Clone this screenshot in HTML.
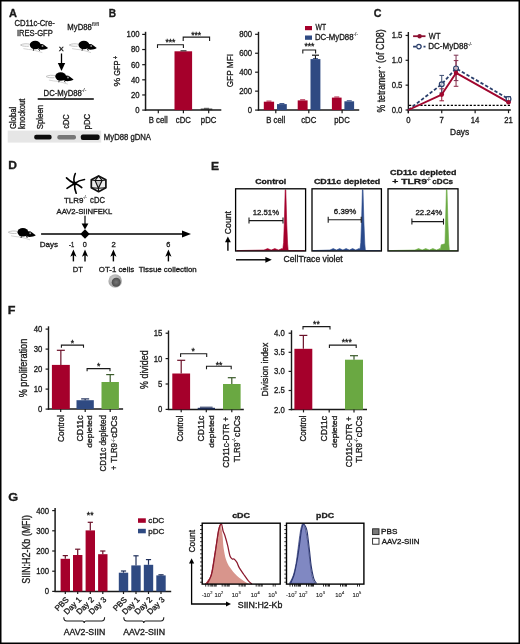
<!DOCTYPE html><html><head><meta charset="utf-8"><style>html,body{margin:0;padding:0;background:#fff;overflow:hidden}svg{display:block;will-change:transform}text{font-family:"Liberation Sans",sans-serif;stroke:#1a1a1a;stroke-width:0.32px}</style></head><body><svg width="520" height="644" viewBox="0 0 520 644" font-family="Liberation Sans, sans-serif">
<rect width="520" height="644" fill="#fff"/>
<defs><filter id="bl" x="-20%" y="-60%" width="140%" height="220%"><feGaussianBlur stdDeviation="0.7"/></filter></defs>
<text x="8.93" y="17.10" font-size="11" font-weight="bold" fill="#1a1a1a" textLength="7.97" lengthAdjust="spacingAndGlyphs">A</text>
<text x="14.42" y="26.40" font-size="8.6" fill="#1a1a1a" textLength="40.32" lengthAdjust="spacingAndGlyphs">CD11c-Cre-</text>
<text x="16.90" y="35.60" font-size="8.6" fill="#1a1a1a" textLength="35.90" lengthAdjust="spacingAndGlyphs">IRES-GFP</text>
<text x="67.37" y="30.00" font-size="8.6" fill="#1a1a1a" textLength="24.47" lengthAdjust="spacingAndGlyphs">MyD88</text>
<text x="92.13" y="25.90" font-size="5.2" style="stroke-width:0.12px" fill="#1a1a1a" textLength="6.73" lengthAdjust="spacingAndGlyphs">fl/fl</text>
<g transform="translate(29.90,40.80) scale(1.0)"><path d="M0.6,3.6 C-3,2.6 -7,2.8 -9.4,4.2 C-7.5,5.6 -4,5.6 -1,5.4" fill="none" stroke="#c4c4c4" stroke-width="1"/><path d="M-6.5,7.8 C-3,8.6 0,8.8 2.6,9 C6,9.8 9,10.8 12.4,11.8" fill="none" stroke="#d0d0d0" stroke-width="0.9"/><ellipse cx="5.3" cy="4.2" rx="5.4" ry="4.2" fill="#000"/><path d="M8.6,3.9 C10.5,2.9 13,3.1 14.5,4.4 C15.8,5.4 17.2,6.4 18.2,7.3 C16.5,8.6 13,9.1 10,8.8 C8.4,8.5 8,6 8.6,3.9 Z" fill="#000"/><circle cx="12.6" cy="5.2" r="1.0" fill="#bbb" stroke="#000" stroke-width="0.3"/><path d="M8.5,8 L9.8,10 M3.8,8.2 L3.4,10" stroke="#000" stroke-width="0.8"/></g>
<g transform="translate(78.60,40.80) scale(1.0)"><path d="M0.6,3.6 C-3,2.6 -7,2.8 -9.4,4.2 C-7.5,5.6 -4,5.6 -1,5.4" fill="none" stroke="#c4c4c4" stroke-width="1"/><path d="M-6.5,7.8 C-3,8.6 0,8.8 2.6,9 C6,9.8 9,10.8 12.4,11.8" fill="none" stroke="#d0d0d0" stroke-width="0.9"/><ellipse cx="5.3" cy="4.2" rx="5.4" ry="4.2" fill="#000"/><path d="M8.6,3.9 C10.5,2.9 13,3.1 14.5,4.4 C15.8,5.4 17.2,6.4 18.2,7.3 C16.5,8.6 13,9.1 10,8.8 C8.4,8.5 8,6 8.6,3.9 Z" fill="#000"/><circle cx="12.6" cy="5.2" r="1.0" fill="#bbb" stroke="#000" stroke-width="0.3"/><path d="M8.5,8 L9.8,10 M3.8,8.2 L3.4,10" stroke="#000" stroke-width="0.8"/></g>
<text x="59.10" y="50.80" font-size="7.5" fill="#1a1a1a" textLength="4.60" lengthAdjust="spacingAndGlyphs">x</text>
<line x1="61.50" y1="53.50" x2="61.50" y2="65.00" stroke="#000" stroke-width="1.3"/>
<path d="M57.8,63 L65.2,63 L61.5,71 Z" fill="#000"/>
<g transform="translate(55.40,72.30) scale(1.0)"><path d="M0.6,3.6 C-3,2.6 -7,2.8 -9.4,4.2 C-7.5,5.6 -4,5.6 -1,5.4" fill="none" stroke="#c4c4c4" stroke-width="1"/><path d="M-6.5,7.8 C-3,8.6 0,8.8 2.6,9 C6,9.8 9,10.8 12.4,11.8" fill="none" stroke="#d0d0d0" stroke-width="0.9"/><ellipse cx="5.3" cy="4.2" rx="5.4" ry="4.2" fill="#000"/><path d="M8.6,3.9 C10.5,2.9 13,3.1 14.5,4.4 C15.8,5.4 17.2,6.4 18.2,7.3 C16.5,8.6 13,9.1 10,8.8 C8.4,8.5 8,6 8.6,3.9 Z" fill="#000"/><circle cx="12.6" cy="5.2" r="1.0" fill="#bbb" stroke="#000" stroke-width="0.3"/><path d="M8.5,8 L9.8,10 M3.8,8.2 L3.4,10" stroke="#000" stroke-width="0.8"/></g>
<text x="43.57" y="95.80" font-size="8.6" fill="#1a1a1a" textLength="38.27" lengthAdjust="spacingAndGlyphs">DC-MyD88</text>
<text x="81.79" y="92.40" font-size="4.8" style="stroke-width:0.12px" fill="#1a1a1a" textLength="4.42" lengthAdjust="spacingAndGlyphs">-/-</text>
<line x1="37.70" y1="99.10" x2="93.80" y2="99.10" stroke="#000" stroke-width="1.5"/>
<text transform="translate(16.20,128.50) rotate(-90)" x="-0.38" y="0" font-size="8.6" fill="#1a1a1a" textLength="22.10" lengthAdjust="spacingAndGlyphs">Global</text>
<text transform="translate(25.40,128.50) rotate(-90)" x="-0.51" y="0" font-size="8.6" fill="#1a1a1a" textLength="30.26" lengthAdjust="spacingAndGlyphs">knockout</text>
<text transform="translate(42.90,128.90) rotate(-90)" x="-0.36" y="0" font-size="8.6" fill="#1a1a1a" textLength="24.36" lengthAdjust="spacingAndGlyphs">Spleen</text>
<text transform="translate(68.50,128.50) rotate(-90)" x="-0.31" y="0" font-size="8.6" fill="#1a1a1a" textLength="14.40" lengthAdjust="spacingAndGlyphs">cDC</text>
<text transform="translate(90.40,128.90) rotate(-90)" x="-0.50" y="0" font-size="8.6" fill="#1a1a1a" textLength="15.60" lengthAdjust="spacingAndGlyphs">pDC</text>
<rect x="7.70" y="130.60" width="93.50" height="12.00" fill="#e6e6e6"/>
<rect x="34.2" y="134.8" width="17.4" height="4.8" rx="2" fill="#111" filter="url(#bl)"/>
<rect x="57.3" y="135.0" width="18.7" height="4.4" rx="2" fill="#777" filter="url(#bl)"/>
<rect x="80.8" y="134.6" width="18.8" height="5.4" rx="2" fill="#0a0a0a" filter="url(#bl)"/>
<text x="103.87" y="140.00" font-size="8.6" fill="#1a1a1a" textLength="47.15" lengthAdjust="spacingAndGlyphs">MyD88 gDNA</text>
<text x="108.82" y="16.90" font-size="11" font-weight="bold" fill="#1a1a1a" textLength="7.34" lengthAdjust="spacingAndGlyphs">B</text>
<line x1="145.55" y1="31.80" x2="145.55" y2="110.70" stroke="#1a1a1a" stroke-width="1.5"/>
<line x1="144.85" y1="110.10" x2="221.30" y2="110.10" stroke="#1a1a1a" stroke-width="1.5"/>
<line x1="142.20" y1="110.10" x2="145.55" y2="110.10" stroke="#1a1a1a" stroke-width="1.2"/>
<text x="135.20" y="113.00" font-size="8.6" fill="#1a1a1a" textLength="4.30" lengthAdjust="spacingAndGlyphs">0</text>
<line x1="142.20" y1="94.96" x2="145.55" y2="94.96" stroke="#1a1a1a" stroke-width="1.2"/>
<text x="130.89" y="97.86" font-size="8.6" fill="#1a1a1a" textLength="8.61" lengthAdjust="spacingAndGlyphs">20</text>
<line x1="142.20" y1="79.82" x2="145.55" y2="79.82" stroke="#1a1a1a" stroke-width="1.2"/>
<text x="130.89" y="82.72" font-size="8.6" fill="#1a1a1a" textLength="8.61" lengthAdjust="spacingAndGlyphs">40</text>
<line x1="142.20" y1="64.68" x2="145.55" y2="64.68" stroke="#1a1a1a" stroke-width="1.2"/>
<text x="130.89" y="67.58" font-size="8.6" fill="#1a1a1a" textLength="8.61" lengthAdjust="spacingAndGlyphs">60</text>
<line x1="142.20" y1="49.54" x2="145.55" y2="49.54" stroke="#1a1a1a" stroke-width="1.2"/>
<text x="130.89" y="52.44" font-size="8.6" fill="#1a1a1a" textLength="8.61" lengthAdjust="spacingAndGlyphs">80</text>
<line x1="142.20" y1="34.40" x2="145.55" y2="34.40" stroke="#1a1a1a" stroke-width="1.2"/>
<text x="126.59" y="37.30" font-size="8.6" fill="#1a1a1a" textLength="12.91" lengthAdjust="spacingAndGlyphs">100</text>
<line x1="158.30" y1="110.10" x2="158.30" y2="113.30" stroke="#1a1a1a" stroke-width="1.2"/>
<text x="148.78" y="123.40" font-size="8.6" fill="#1a1a1a" textLength="18.93" lengthAdjust="spacingAndGlyphs">B cell</text>
<line x1="183.40" y1="110.10" x2="183.40" y2="113.30" stroke="#1a1a1a" stroke-width="1.2"/>
<text x="175.86" y="123.40" font-size="8.6" fill="#1a1a1a" textLength="15.05" lengthAdjust="spacingAndGlyphs">cDC</text>
<line x1="208.70" y1="110.10" x2="208.70" y2="113.30" stroke="#1a1a1a" stroke-width="1.2"/>
<text x="200.86" y="123.40" font-size="8.6" fill="#1a1a1a" textLength="15.48" lengthAdjust="spacingAndGlyphs">pDC</text>
<rect x="174.50" y="51.30" width="17.60" height="58.80" fill="#a5002b"/>
<line x1="180.50" y1="50.80" x2="186.50" y2="50.80" stroke="#1a1a1a" stroke-width="1"/>
<rect x="200.70" y="108.60" width="11.60" height="1.50" fill="#2a2a2a"/>
<line x1="204.00" y1="108.30" x2="209.00" y2="108.30" stroke="#222" stroke-width="0.7"/>
<path d="M157.50,48.00V44.80H183.40V48.00" fill="none" stroke="#1a1a1a" stroke-width="1.1"/>
<path d="M183.20,41.10V37.10H209.60V41.10" fill="none" stroke="#1a1a1a" stroke-width="1.1"/>
<text x="170.40" y="44.99" font-size="8.6" fill="#1a1a1a" text-anchor="middle">***</text>
<text x="196.20" y="37.59" font-size="8.6" fill="#1a1a1a" text-anchor="middle">***</text>
<text transform="translate(119.60,86.10) rotate(-90)" x="-0.35" y="0" font-size="9.6" fill="#1a1a1a" textLength="8.81" lengthAdjust="spacingAndGlyphs">%</text>
<text transform="translate(119.60,75.30) rotate(-90)" x="-0.37" y="0" font-size="9.6" fill="#1a1a1a" textLength="15.16" lengthAdjust="spacingAndGlyphs">GFP</text>
<text transform="translate(117.60,59.00) rotate(-90)" x="-0.28" y="0" font-size="7" fill="#1a1a1a" textLength="3.37" lengthAdjust="spacingAndGlyphs">+</text>
<line x1="258.50" y1="31.80" x2="258.50" y2="110.70" stroke="#1a1a1a" stroke-width="1.4"/>
<line x1="257.80" y1="110.10" x2="359.20" y2="110.10" stroke="#1a1a1a" stroke-width="1.5"/>
<line x1="255.10" y1="110.10" x2="258.50" y2="110.10" stroke="#1a1a1a" stroke-width="1.2"/>
<text x="247.80" y="113.00" font-size="8.6" fill="#1a1a1a" textLength="4.30" lengthAdjust="spacingAndGlyphs">0</text>
<line x1="255.10" y1="91.15" x2="258.50" y2="91.15" stroke="#1a1a1a" stroke-width="1.2"/>
<text x="239.19" y="94.05" font-size="8.6" fill="#1a1a1a" textLength="12.91" lengthAdjust="spacingAndGlyphs">200</text>
<line x1="255.10" y1="72.20" x2="258.50" y2="72.20" stroke="#1a1a1a" stroke-width="1.2"/>
<text x="239.19" y="75.10" font-size="8.6" fill="#1a1a1a" textLength="12.91" lengthAdjust="spacingAndGlyphs">400</text>
<line x1="255.10" y1="53.25" x2="258.50" y2="53.25" stroke="#1a1a1a" stroke-width="1.2"/>
<text x="239.19" y="56.15" font-size="8.6" fill="#1a1a1a" textLength="12.91" lengthAdjust="spacingAndGlyphs">600</text>
<line x1="255.10" y1="34.30" x2="258.50" y2="34.30" stroke="#1a1a1a" stroke-width="1.2"/>
<text x="239.19" y="37.20" font-size="8.6" fill="#1a1a1a" textLength="12.91" lengthAdjust="spacingAndGlyphs">800</text>
<line x1="275.80" y1="110.10" x2="275.80" y2="113.30" stroke="#1a1a1a" stroke-width="1.2"/>
<text x="266.28" y="123.40" font-size="8.6" fill="#1a1a1a" textLength="18.93" lengthAdjust="spacingAndGlyphs">B cell</text>
<line x1="308.80" y1="110.10" x2="308.80" y2="113.30" stroke="#1a1a1a" stroke-width="1.2"/>
<text x="301.26" y="123.40" font-size="8.6" fill="#1a1a1a" textLength="15.05" lengthAdjust="spacingAndGlyphs">cDC</text>
<line x1="342.10" y1="110.10" x2="342.10" y2="113.30" stroke="#1a1a1a" stroke-width="1.2"/>
<text x="334.26" y="123.40" font-size="8.6" fill="#1a1a1a" textLength="15.48" lengthAdjust="spacingAndGlyphs">pDC</text>
<rect x="263.80" y="101.70" width="10.30" height="8.40" fill="#a5002b"/>
<line x1="266.45" y1="101.10" x2="271.45" y2="101.10" stroke="#a5002b" stroke-width="0.9"/>
<rect x="277.00" y="104.10" width="9.80" height="6.00" fill="#2f4a82"/>
<line x1="279.40" y1="103.50" x2="284.40" y2="103.50" stroke="#2f4a82" stroke-width="0.9"/>
<rect x="297.70" y="100.40" width="9.90" height="9.70" fill="#a5002b"/>
<line x1="300.15" y1="99.80" x2="305.15" y2="99.80" stroke="#a5002b" stroke-width="0.9"/>
<rect x="310.50" y="59.10" width="9.90" height="51.00" fill="#2f4a82"/>
<line x1="312.95" y1="58.50" x2="317.95" y2="58.50" stroke="#2f4a82" stroke-width="0.9"/>
<rect x="331.90" y="97.60" width="9.70" height="12.50" fill="#a5002b"/>
<line x1="334.25" y1="97.00" x2="339.25" y2="97.00" stroke="#a5002b" stroke-width="0.9"/>
<rect x="344.40" y="101.30" width="9.70" height="8.80" fill="#2f4a82"/>
<line x1="346.75" y1="100.70" x2="351.75" y2="100.70" stroke="#2f4a82" stroke-width="0.9"/>
<line x1="315.45" y1="59.10" x2="315.45" y2="55.40" stroke="#1a1a1a" stroke-width="1.1"/>
<line x1="312.00" y1="55.20" x2="319.00" y2="55.20" stroke="#1a1a1a" stroke-width="1.2"/>
<rect x="305.00" y="26.00" width="7.00" height="4.20" fill="#a5002b"/>
<rect x="305.00" y="35.50" width="7.00" height="4.30" fill="#2f4a82"/>
<text x="315.57" y="30.20" font-size="8.6" fill="#1a1a1a" textLength="10.48" lengthAdjust="spacingAndGlyphs">WT</text>
<text x="314.96" y="39.80" font-size="8.6" fill="#1a1a1a" textLength="38.58" lengthAdjust="spacingAndGlyphs">DC-MyD88</text>
<text x="353.60" y="36.40" font-size="4.8" style="stroke-width:0.12px" fill="#1a1a1a" textLength="4.31" lengthAdjust="spacingAndGlyphs">-/-</text>
<path d="M302.80,53.50V50.00H315.60V53.50" fill="none" stroke="#1a1a1a" stroke-width="1.1"/>
<text x="309.40" y="48.99" font-size="8.6" fill="#1a1a1a" text-anchor="middle">***</text>
<text transform="translate(233.00,86.90) rotate(-90)" x="-0.41" y="0" font-size="9.6" fill="#1a1a1a" textLength="33.37" lengthAdjust="spacingAndGlyphs">GFP MFI</text>
<text x="373.76" y="17.20" font-size="11" font-weight="bold" fill="#1a1a1a" textLength="7.73" lengthAdjust="spacingAndGlyphs">C</text>
<line x1="408.35" y1="32.00" x2="408.35" y2="113.20" stroke="#1a1a1a" stroke-width="1.4"/>
<line x1="407.65" y1="110.00" x2="510.80" y2="110.00" stroke="#1a1a1a" stroke-width="1.5"/>
<line x1="405.60" y1="110.00" x2="408.35" y2="110.00" stroke="#1a1a1a" stroke-width="1.2"/>
<text x="391.64" y="112.90" font-size="8.6" fill="#1a1a1a" textLength="10.76" lengthAdjust="spacingAndGlyphs">0.0</text>
<line x1="405.60" y1="85.15" x2="408.35" y2="85.15" stroke="#1a1a1a" stroke-width="1.2"/>
<text x="391.67" y="88.05" font-size="8.6" fill="#1a1a1a" textLength="10.76" lengthAdjust="spacingAndGlyphs">0.5</text>
<line x1="405.60" y1="60.30" x2="408.35" y2="60.30" stroke="#1a1a1a" stroke-width="1.2"/>
<text x="391.64" y="63.20" font-size="8.6" fill="#1a1a1a" textLength="10.76" lengthAdjust="spacingAndGlyphs">1.0</text>
<line x1="405.60" y1="35.45" x2="408.35" y2="35.45" stroke="#1a1a1a" stroke-width="1.2"/>
<text x="391.67" y="38.35" font-size="8.6" fill="#1a1a1a" textLength="10.76" lengthAdjust="spacingAndGlyphs">1.5</text>
<line x1="408.35" y1="110.00" x2="408.35" y2="113.20" stroke="#1a1a1a" stroke-width="1.2"/>
<text x="406.20" y="123.40" font-size="8.6" fill="#1a1a1a" textLength="4.30" lengthAdjust="spacingAndGlyphs">0</text>
<line x1="441.74" y1="110.00" x2="441.74" y2="113.20" stroke="#1a1a1a" stroke-width="1.2"/>
<text x="439.58" y="123.40" font-size="8.6" fill="#1a1a1a" textLength="4.30" lengthAdjust="spacingAndGlyphs">7</text>
<line x1="475.13" y1="110.00" x2="475.13" y2="113.20" stroke="#1a1a1a" stroke-width="1.2"/>
<text x="470.64" y="123.40" font-size="8.6" fill="#1a1a1a" textLength="8.61" lengthAdjust="spacingAndGlyphs">14</text>
<line x1="508.52" y1="110.00" x2="508.52" y2="113.20" stroke="#1a1a1a" stroke-width="1.2"/>
<text x="504.21" y="123.40" font-size="8.6" fill="#1a1a1a" textLength="8.61" lengthAdjust="spacingAndGlyphs">21</text>
<text x="450.11" y="134.60" font-size="9" fill="#1a1a1a" textLength="19.09" lengthAdjust="spacingAndGlyphs">Days</text>
<line x1="409.00" y1="105.40" x2="511.00" y2="105.40" stroke="#000" stroke-width="1.1" stroke-dasharray="2.2,1.6"/>
<line x1="441.74" y1="88.80" x2="441.74" y2="100.80" stroke="#9a1a3a" stroke-width="1.0"/>
<line x1="439.44" y1="88.80" x2="444.04" y2="88.80" stroke="#9a1a3a" stroke-width="1.0"/>
<line x1="439.44" y1="100.80" x2="444.04" y2="100.80" stroke="#9a1a3a" stroke-width="1.0"/>
<line x1="456.05" y1="60.60" x2="456.05" y2="86.30" stroke="#8a2a48" stroke-width="1.0"/>
<line x1="453.75" y1="60.60" x2="458.35" y2="60.60" stroke="#8a2a48" stroke-width="1.0"/>
<line x1="453.75" y1="86.30" x2="458.35" y2="86.30" stroke="#8a2a48" stroke-width="1.0"/>
<line x1="441.74" y1="75.40" x2="441.74" y2="93.00" stroke="#3c4c70" stroke-width="1.0"/>
<line x1="439.44" y1="75.40" x2="444.04" y2="75.40" stroke="#3c4c70" stroke-width="1.0"/>
<line x1="439.44" y1="93.00" x2="444.04" y2="93.00" stroke="#3c4c70" stroke-width="1.0"/>
<line x1="456.05" y1="55.20" x2="456.05" y2="80.60" stroke="#7a3050" stroke-width="1.0"/>
<line x1="453.75" y1="55.20" x2="458.35" y2="55.20" stroke="#7a3050" stroke-width="1.0"/>
<line x1="453.75" y1="80.60" x2="458.35" y2="80.60" stroke="#7a3050" stroke-width="1.0"/>
<line x1="508.52" y1="96.50" x2="508.52" y2="101.50" stroke="#3c4c70" stroke-width="1.0"/>
<line x1="506.22" y1="96.50" x2="510.82" y2="96.50" stroke="#3c4c70" stroke-width="1.0"/>
<line x1="506.22" y1="101.50" x2="510.82" y2="101.50" stroke="#3c4c70" stroke-width="1.0"/>
<polyline points="408.35,110.00 441.74,84.20 456.05,68.40 508.52,98.90" fill="none" stroke="#2b3f6b" stroke-width="1.8" stroke-dasharray="3.4,2"/>
<polyline points="408.35,110.00 441.74,94.60 456.05,72.90 508.52,102.30" fill="none" stroke="#a0062e" stroke-width="1.9" stroke-linejoin="round"/>
<circle cx="441.74" cy="84.20" r="2.4" fill="#fff" fill-opacity="0.5" stroke="#2b3f6b" stroke-width="1.2"/>
<circle cx="456.05" cy="68.40" r="2.4" fill="#fff" fill-opacity="0.5" stroke="#2b3f6b" stroke-width="1.2"/>
<circle cx="508.52" cy="98.90" r="2.4" fill="#fff" fill-opacity="0.5" stroke="#2b3f6b" stroke-width="1.2"/>
<circle cx="441.74" cy="94.60" r="2.3" fill="#a0062e"/>
<circle cx="456.05" cy="72.90" r="2.3" fill="#a0062e"/>
<circle cx="508.52" cy="102.30" r="2.3" fill="#a0062e"/>
<line x1="413.10" y1="36.20" x2="425.50" y2="36.20" stroke="#8c0f30" stroke-width="1.8"/>
<circle cx="419.6" cy="36.2" r="2.2" fill="#8c0f30"/>
<line x1="413.10" y1="46.60" x2="425.50" y2="46.60" stroke="#2b3f6b" stroke-width="1.8" stroke-dasharray="3,2.2"/>
<circle cx="418.9" cy="46.6" r="2.2" fill="#fff" stroke="#2b3f6b" stroke-width="1.2"/>
<text x="428.87" y="38.90" font-size="8.6" fill="#1a1a1a" textLength="11.60" lengthAdjust="spacingAndGlyphs">WT</text>
<text x="428.24" y="49.40" font-size="8.6" fill="#1a1a1a" textLength="39.81" lengthAdjust="spacingAndGlyphs">DC-MyD88</text>
<text x="468.02" y="45.60" font-size="4.8" style="stroke-width:0.12px" fill="#1a1a1a" textLength="3.86" lengthAdjust="spacingAndGlyphs">-/-</text>
<text transform="translate(384.80,112.10) rotate(-90)" x="-0.31" y="0" font-size="10" fill="#1a1a1a" textLength="42.25" lengthAdjust="spacingAndGlyphs">% tetramer</text>
<text transform="translate(381.40,69.00) rotate(-90)" x="-0.26" y="0" font-size="6" style="stroke-width:0.12px" fill="#1a1a1a" textLength="3.13" lengthAdjust="spacingAndGlyphs">+</text>
<text transform="translate(383.60,62.40) rotate(-90)" x="-0.55" y="0" font-size="10" fill="#1a1a1a" textLength="33.71" lengthAdjust="spacingAndGlyphs">(of CD8)</text>
<text x="8.39" y="168.80" font-size="11" font-weight="bold" fill="#1a1a1a" textLength="8.71" lengthAdjust="spacingAndGlyphs">D</text>
<path d="M74.6,183.5 Q72.85,179.10 75.30,173.50 M74.6,183.5 Q78.85,180.30 84.50,179.50 M74.6,183.5 Q77.40,184.05 81.80,187.60 M74.6,183.5 Q74.20,188.65 76.20,193.20 M74.6,183.5 Q71.00,185.70 67.00,188.30 M74.6,183.5 Q69.45,181.10 66.50,177.90 " fill="none" stroke="#000" stroke-width="1.6" stroke-linecap="round"/>
<circle cx="74.6" cy="183.5" r="1.9" fill="#000"/>
<polygon points="98.60,175.90 105.90,179.85 105.90,187.75 98.60,191.70 91.30,187.75 91.30,179.85" fill="#ececec"/>
<polygon points="95.10,180.50 102.10,180.50 98.40,188.20" fill="#c8c8c8"/>
<g fill="none" stroke="#111" stroke-width="1.15" stroke-linejoin="round"><path d="M95.10,180.50 L102.10,180.50 L98.40,188.20 Z"/><path d="M98.60,175.90 L95.10,180.50 M98.60,175.90 L102.10,180.50 M91.30,179.85 L95.10,180.50 M105.90,179.85 L102.10,180.50 M91.30,187.75 L98.40,188.20 M105.90,187.75 L98.40,188.20 M98.60,191.70 L98.40,188.20"/></g>
<polygon points="98.60,175.90 105.90,179.85 105.90,187.75 98.60,191.70 91.30,187.75 91.30,179.85" fill="none" stroke="#111" stroke-width="1.7" stroke-linejoin="round"/>
<text x="64.02" y="202.70" font-size="8" fill="#1a1a1a" textLength="19.35" lengthAdjust="spacingAndGlyphs">TLR9</text>
<text x="83.24" y="199.40" font-size="4.5" style="stroke-width:0.12px" fill="#1a1a1a" textLength="3.31" lengthAdjust="spacingAndGlyphs">-/-</text>
<text x="90.08" y="202.70" font-size="8.6" fill="#1a1a1a" textLength="14.81" lengthAdjust="spacingAndGlyphs">cDC</text>
<text x="56.59" y="214.20" font-size="8" fill="#1a1a1a" textLength="55.67" lengthAdjust="spacingAndGlyphs">AAV2-SIINFEKL</text>
<line x1="85.00" y1="215.80" x2="85.00" y2="225.00" stroke="#1a1a1a" stroke-width="1.3"/>
<path d="M81.6,223.6 L88.4,223.6 L85,229.4 Z" fill="#000"/>
<line x1="41.10" y1="234.00" x2="184.00" y2="234.00" stroke="#000" stroke-width="1.4"/>
<path d="M182,230.6 L191,234 L182,237.4 Z" fill="#000"/>
<path d="M85,229.3 L89.7,234 L85,238.7 L80.3,234 Z" fill="#000"/>
<g transform="translate(17.60,228.00) scale(1.0)"><path d="M0.6,3.6 C-3,2.6 -7,2.8 -9.4,4.2 C-7.5,5.6 -4,5.6 -1,5.4" fill="none" stroke="#c4c4c4" stroke-width="1"/><path d="M-6.5,7.8 C-3,8.6 0,8.8 2.6,9 C6,9.8 9,10.8 12.4,11.8" fill="none" stroke="#d0d0d0" stroke-width="0.9"/><ellipse cx="5.3" cy="4.2" rx="5.4" ry="4.2" fill="#000"/><path d="M8.6,3.9 C10.5,2.9 13,3.1 14.5,4.4 C15.8,5.4 17.2,6.4 18.2,7.3 C16.5,8.6 13,9.1 10,8.8 C8.4,8.5 8,6 8.6,3.9 Z" fill="#000"/><circle cx="12.6" cy="5.2" r="1.0" fill="#bbb" stroke="#000" stroke-width="0.3"/><path d="M8.5,8 L9.8,10 M3.8,8.2 L3.4,10" stroke="#000" stroke-width="0.8"/></g>
<text x="39.74" y="247.00" font-size="8" fill="#1a1a1a" textLength="18.25" lengthAdjust="spacingAndGlyphs">Days</text>
<text x="69.04" y="246.60" font-size="8" fill="#1a1a1a" textLength="5.14" lengthAdjust="spacingAndGlyphs">-1</text>
<text x="82.81" y="246.60" font-size="8" fill="#1a1a1a" textLength="4.07" lengthAdjust="spacingAndGlyphs">0</text>
<text x="111.41" y="246.60" font-size="8" fill="#1a1a1a" textLength="4.27" lengthAdjust="spacingAndGlyphs">2</text>
<text x="166.23" y="246.60" font-size="8" fill="#1a1a1a" textLength="4.10" lengthAdjust="spacingAndGlyphs">6</text>
<line x1="73.40" y1="254.50" x2="73.40" y2="261.40" stroke="#000" stroke-width="1.4"/>
<path d="M70.30,256.7 L73.40,249.6 L76.50,256.7 L73.40,255.0 Z" fill="#000"/>
<line x1="85.00" y1="254.50" x2="85.00" y2="261.40" stroke="#000" stroke-width="1.4"/>
<path d="M81.90,256.7 L85.00,249.6 L88.10,256.7 L85.00,255.0 Z" fill="#000"/>
<line x1="113.40" y1="254.50" x2="113.40" y2="261.40" stroke="#000" stroke-width="1.4"/>
<path d="M110.30,256.7 L113.40,249.6 L116.50,256.7 L113.40,255.0 Z" fill="#000"/>
<line x1="168.40" y1="254.50" x2="168.40" y2="261.40" stroke="#000" stroke-width="1.4"/>
<path d="M165.30,256.7 L168.40,249.6 L171.50,256.7 L168.40,255.0 Z" fill="#000"/>
<text x="72.78" y="272.00" font-size="8" fill="#1a1a1a" textLength="10.10" lengthAdjust="spacingAndGlyphs">DT</text>
<text x="98.83" y="272.00" font-size="8" fill="#1a1a1a" textLength="35.25" lengthAdjust="spacingAndGlyphs">OT-1 cells</text>
<text x="138.72" y="272.00" font-size="8" fill="#1a1a1a" textLength="57.99" lengthAdjust="spacingAndGlyphs">Tissue collection</text>
<defs><radialGradient id="cg" cx="0.4" cy="0.35" r="0.7"><stop offset="0" stop-color="#cfcfcf"/><stop offset="0.7" stop-color="#a8a8a8"/><stop offset="1" stop-color="#bdbdbd"/></radialGradient><radialGradient id="ng" cx="0.5" cy="0.5" r="0.6"><stop offset="0" stop-color="#777"/><stop offset="1" stop-color="#444"/></radialGradient></defs>
<circle cx="115.2" cy="281" r="6.8" fill="url(#cg)"/>
<circle cx="116.2" cy="282.2" r="4.5" fill="url(#ng)"/>
<text x="211.09" y="169.50" font-size="11" font-weight="bold" fill="#1a1a1a" textLength="8.08" lengthAdjust="spacingAndGlyphs">E</text>
<text x="255.24" y="183.70" font-size="8" font-weight="bold" fill="#1a1a1a" textLength="30.97" lengthAdjust="spacingAndGlyphs">Control</text>
<text x="313.94" y="183.50" font-size="8" font-weight="bold" fill="#1a1a1a" textLength="66.35" lengthAdjust="spacingAndGlyphs">CD11c depleted</text>
<text x="390.04" y="175.00" font-size="8" font-weight="bold" fill="#1a1a1a" textLength="66.35" lengthAdjust="spacingAndGlyphs">CD11c depleted</text>
<text x="392.27" y="184.20" font-size="8" font-weight="bold" fill="#1a1a1a" textLength="34.61" lengthAdjust="spacingAndGlyphs">+ TLR9</text>
<text x="426.85" y="180.60" font-size="4.5" font-weight="bold" style="stroke-width:0.12px" fill="#1a1a1a" textLength="3.71" lengthAdjust="spacingAndGlyphs">-/-</text>
<text x="432.28" y="184.20" font-size="8" font-weight="bold" fill="#1a1a1a" textLength="20.75" lengthAdjust="spacingAndGlyphs">cDCs</text>
<path d="M236.60,250.60 L264.00,250.00 L267.60,248.60 L271.20,250.00 L274.80,248.60 L278.40,250.00 L282.00,248.60 L282.80,249.10 L283.60,242.60 L284.40,220.00 L285.20,189.80 L285.80,189.80 L286.70,222.00 L287.60,244.00 L288.20,250.60 L304.60,250.60 Z" fill="#a5002b" stroke="#a5002b" stroke-width="0.6" stroke-linejoin="round"/>
<path d="M313.00,250.60 L330.00,250.00 L333.22,248.60 L336.44,250.00 L339.67,248.60 L342.89,250.00 L346.11,248.60 L349.33,250.00 L352.56,248.60 L355.78,250.00 L359.00,248.60 L360.00,249.10 L360.80,242.60 L361.60,220.00 L362.40,189.80 L363.00,189.80 L363.90,222.00 L364.80,244.00 L365.40,250.60 L380.40,250.60 Z" fill="#2a4a8c" stroke="#2a4a8c" stroke-width="0.6" stroke-linejoin="round"/>
<path d="M389.00,250.60 L415.00,250.00 L418.57,248.60 L422.14,250.00 L425.71,248.60 L429.29,250.00 L432.86,248.60 L436.43,250.00 L440.00,248.60 L440.40,249.60 L441.20,244.80 L445.00,243.80 L445.60,220.00 L446.40,189.80 L447.00,189.80 L447.90,222.00 L448.80,244.00 L449.40,250.60 L457.00,250.60 Z" fill="#6aaa42" stroke="#6aaa42" stroke-width="0.6" stroke-linejoin="round"/>
<rect x="235.60" y="188.8" width="70.00" height="62.2" fill="none" stroke="#000" stroke-width="1.3"/>
<rect x="312.00" y="188.8" width="69.40" height="62.2" fill="none" stroke="#000" stroke-width="1.3"/>
<rect x="388.00" y="188.8" width="70.00" height="62.2" fill="none" stroke="#000" stroke-width="1.3"/>
<line x1="249.00" y1="220.60" x2="283.00" y2="220.60" stroke="#1a1a1a" stroke-width="1.1"/>
<line x1="249.00" y1="217.60" x2="249.00" y2="223.60" stroke="#1a1a1a" stroke-width="1.1"/>
<line x1="283.00" y1="217.60" x2="283.00" y2="223.60" stroke="#1a1a1a" stroke-width="1.1"/>
<line x1="328.20" y1="219.80" x2="361.20" y2="219.80" stroke="#1a1a1a" stroke-width="1.1"/>
<line x1="328.20" y1="216.80" x2="328.20" y2="222.80" stroke="#1a1a1a" stroke-width="1.1"/>
<line x1="361.20" y1="216.80" x2="361.20" y2="222.80" stroke="#1a1a1a" stroke-width="1.1"/>
<line x1="411.90" y1="221.60" x2="443.50" y2="221.60" stroke="#1a1a1a" stroke-width="1.1"/>
<line x1="411.90" y1="218.60" x2="411.90" y2="224.60" stroke="#1a1a1a" stroke-width="1.1"/>
<line x1="443.50" y1="218.60" x2="443.50" y2="224.60" stroke="#1a1a1a" stroke-width="1.1"/>
<text x="252.71" y="214.80" font-size="8" fill="#1a1a1a" textLength="26.37" lengthAdjust="spacingAndGlyphs">12.51%</text>
<text x="333.80" y="214.00" font-size="8" fill="#1a1a1a" textLength="22.38" lengthAdjust="spacingAndGlyphs">6.39%</text>
<text x="415.40" y="215.40" font-size="8" fill="#1a1a1a" textLength="26.78" lengthAdjust="spacingAndGlyphs">22.24%</text>
<text transform="translate(231.20,233.70) rotate(-90)" x="-0.44" y="0" font-size="8.6" fill="#1a1a1a" textLength="23.00" lengthAdjust="spacingAndGlyphs">Count</text>
<line x1="227.90" y1="241.00" x2="227.90" y2="250.80" stroke="#000" stroke-width="1.4"/>
<path d="M225.0,242.2 L230.8,242.2 L227.9,236.6 Z" fill="#000"/>
<line x1="236.00" y1="259.80" x2="266.00" y2="259.80" stroke="#000" stroke-width="1.4"/>
<path d="M265.4,256.9 L265.4,262.7 L271.8,259.8 Z" fill="#000"/>
<text x="283.56" y="262.30" font-size="8.5" fill="#1a1a1a" textLength="59.20" lengthAdjust="spacingAndGlyphs">CellTrace violet</text>
<text x="7.86" y="314.30" font-size="11" font-weight="bold" fill="#1a1a1a" textLength="7.71" lengthAdjust="spacingAndGlyphs">F</text>
<line x1="48.50" y1="326.30" x2="48.50" y2="409.70" stroke="#1a1a1a" stroke-width="1.4"/>
<line x1="47.80" y1="409.10" x2="123.10" y2="409.10" stroke="#1a1a1a" stroke-width="1.5"/>
<line x1="45.60" y1="409.10" x2="48.50" y2="409.10" stroke="#1a1a1a" stroke-width="1.2"/>
<text x="38.10" y="412.00" font-size="8.6" fill="#1a1a1a" textLength="4.30" lengthAdjust="spacingAndGlyphs">0</text>
<line x1="45.60" y1="389.10" x2="48.50" y2="389.10" stroke="#1a1a1a" stroke-width="1.2"/>
<text x="33.79" y="392.00" font-size="8.6" fill="#1a1a1a" textLength="8.61" lengthAdjust="spacingAndGlyphs">10</text>
<line x1="45.60" y1="369.10" x2="48.50" y2="369.10" stroke="#1a1a1a" stroke-width="1.2"/>
<text x="33.79" y="372.00" font-size="8.6" fill="#1a1a1a" textLength="8.61" lengthAdjust="spacingAndGlyphs">20</text>
<line x1="45.60" y1="349.10" x2="48.50" y2="349.10" stroke="#1a1a1a" stroke-width="1.2"/>
<text x="33.79" y="352.00" font-size="8.6" fill="#1a1a1a" textLength="8.61" lengthAdjust="spacingAndGlyphs">30</text>
<line x1="45.60" y1="329.10" x2="48.50" y2="329.10" stroke="#1a1a1a" stroke-width="1.2"/>
<text x="33.79" y="332.00" font-size="8.6" fill="#1a1a1a" textLength="8.61" lengthAdjust="spacingAndGlyphs">40</text>
<rect x="51.90" y="364.90" width="17.90" height="44.20" fill="#a5002b"/>
<line x1="60.85" y1="364.90" x2="60.85" y2="350.30" stroke="#6a1028" stroke-width="1.2"/>
<line x1="56.85" y1="350.30" x2="64.85" y2="350.30" stroke="#6a1028" stroke-width="1.2"/>
<rect x="76.50" y="400.20" width="17.30" height="8.90" fill="#2f4a82"/>
<line x1="85.15" y1="400.20" x2="85.15" y2="398.90" stroke="#1f2f5a" stroke-width="1.2"/>
<line x1="81.15" y1="398.90" x2="89.15" y2="398.90" stroke="#1f2f5a" stroke-width="1.2"/>
<rect x="101.50" y="382.00" width="17.40" height="27.10" fill="#6aa842"/>
<line x1="110.20" y1="382.00" x2="110.20" y2="374.60" stroke="#3a5a2a" stroke-width="1.2"/>
<line x1="106.20" y1="374.60" x2="114.20" y2="374.60" stroke="#3a5a2a" stroke-width="1.2"/>
<line x1="60.70" y1="409.10" x2="60.70" y2="411.90" stroke="#1a1a1a" stroke-width="1.2"/>
<line x1="85.20" y1="409.10" x2="85.20" y2="411.90" stroke="#1a1a1a" stroke-width="1.2"/>
<line x1="110.20" y1="409.10" x2="110.20" y2="411.90" stroke="#1a1a1a" stroke-width="1.2"/>
<path d="M61.40,347.70V345.10H83.50V347.70" fill="none" stroke="#1a1a1a" stroke-width="1.1"/>
<text x="72.40" y="345.89" font-size="8.6" fill="#1a1a1a" text-anchor="middle">*</text>
<path d="M87.10,371.20V368.60H110.00V371.20" fill="none" stroke="#1a1a1a" stroke-width="1.1"/>
<text x="98.80" y="369.39" font-size="8.6" fill="#1a1a1a" text-anchor="middle">*</text>
<text transform="translate(27.10,397.00) rotate(-90)" x="-0.33" y="0" font-size="10.0" fill="#1a1a1a" textLength="58.62" lengthAdjust="spacingAndGlyphs">% proliferation</text>
<text transform="translate(64.10,441.50) rotate(-90)" x="-0.42" y="0" font-size="8.2" fill="#1a1a1a" textLength="26.67" lengthAdjust="spacingAndGlyphs">Control</text>
<text transform="translate(83.30,441.10) rotate(-90)" x="-0.43" y="0" font-size="8.6" fill="#1a1a1a" textLength="26.16" lengthAdjust="spacingAndGlyphs">CD11c</text>
<text transform="translate(92.40,447.30) rotate(-90)" x="-0.35" y="0" font-size="7.9" fill="#1a1a1a" textLength="32.30" lengthAdjust="spacingAndGlyphs">depleted</text>
<text transform="translate(106.10,471.10) rotate(-90)" x="-0.40" y="0" font-size="8.2" fill="#1a1a1a" textLength="56.41" lengthAdjust="spacingAndGlyphs">CD11c depleted</text>
<text transform="translate(117.20,469.60) rotate(-90)" x="-0.36" y="0" font-size="8.2" fill="#1a1a1a" textLength="4.33" lengthAdjust="spacingAndGlyphs">+</text>
<text transform="translate(117.20,462.50) rotate(-90)" x="-0.18" y="0" font-size="8.2" fill="#1a1a1a" textLength="19.76" lengthAdjust="spacingAndGlyphs">TLR9</text>
<text transform="translate(114.60,442.30) rotate(-90)" x="-0.21" y="0" font-size="4.8" style="stroke-width:0.12px" fill="#1a1a1a" textLength="4.42" lengthAdjust="spacingAndGlyphs">-/-</text>
<text transform="translate(117.20,437.30) rotate(-90)" x="-0.38" y="0" font-size="8.2" fill="#1a1a1a" textLength="22.01" lengthAdjust="spacingAndGlyphs">cDCs</text>
<line x1="168.50" y1="330.50" x2="168.50" y2="410.00" stroke="#1a1a1a" stroke-width="1.4"/>
<line x1="167.80" y1="409.40" x2="243.80" y2="409.40" stroke="#1a1a1a" stroke-width="1.5"/>
<line x1="165.60" y1="409.40" x2="168.50" y2="409.40" stroke="#1a1a1a" stroke-width="1.2"/>
<text x="158.10" y="412.30" font-size="8.6" fill="#1a1a1a" textLength="4.30" lengthAdjust="spacingAndGlyphs">0</text>
<line x1="165.60" y1="384.00" x2="168.50" y2="384.00" stroke="#1a1a1a" stroke-width="1.2"/>
<text x="158.12" y="386.90" font-size="8.6" fill="#1a1a1a" textLength="4.30" lengthAdjust="spacingAndGlyphs">5</text>
<line x1="165.60" y1="358.60" x2="168.50" y2="358.60" stroke="#1a1a1a" stroke-width="1.2"/>
<text x="153.79" y="361.50" font-size="8.6" fill="#1a1a1a" textLength="8.61" lengthAdjust="spacingAndGlyphs">10</text>
<line x1="165.60" y1="333.20" x2="168.50" y2="333.20" stroke="#1a1a1a" stroke-width="1.2"/>
<text x="153.82" y="336.10" font-size="8.6" fill="#1a1a1a" textLength="8.61" lengthAdjust="spacingAndGlyphs">15</text>
<rect x="172.30" y="373.50" width="17.80" height="35.90" fill="#a5002b"/>
<line x1="181.20" y1="373.50" x2="181.20" y2="360.30" stroke="#6a1028" stroke-width="1.2"/>
<line x1="177.20" y1="360.30" x2="185.20" y2="360.30" stroke="#6a1028" stroke-width="1.2"/>
<rect x="197.70" y="407.80" width="17.30" height="1.60" fill="#1f2f5a"/>
<rect x="223.00" y="384.00" width="17.60" height="25.40" fill="#6aa842"/>
<line x1="231.80" y1="384.00" x2="231.80" y2="377.70" stroke="#3a5a2a" stroke-width="1.2"/>
<line x1="227.80" y1="377.70" x2="235.80" y2="377.70" stroke="#3a5a2a" stroke-width="1.2"/>
<line x1="181.20" y1="409.40" x2="181.20" y2="412.20" stroke="#1a1a1a" stroke-width="1.2"/>
<line x1="206.30" y1="409.40" x2="206.30" y2="412.20" stroke="#1a1a1a" stroke-width="1.2"/>
<line x1="231.80" y1="409.40" x2="231.80" y2="412.20" stroke="#1a1a1a" stroke-width="1.2"/>
<line x1="200.00" y1="407.20" x2="212.60" y2="407.20" stroke="#1f2f5a" stroke-width="1.0"/>
<path d="M180.60,356.90V353.70H206.70V356.90" fill="none" stroke="#1a1a1a" stroke-width="1.1"/>
<text x="193.20" y="354.39" font-size="8.6" fill="#1a1a1a" text-anchor="middle">*</text>
<path d="M206.50,369.20V366.20H231.20V369.20" fill="none" stroke="#1a1a1a" stroke-width="1.1"/>
<text x="219.00" y="367.79" font-size="8.6" fill="#1a1a1a" text-anchor="middle">**</text>
<text transform="translate(147.90,388.60) rotate(-90)" x="-0.32" y="0" font-size="10.2" fill="#1a1a1a" textLength="38.49" lengthAdjust="spacingAndGlyphs">% divided</text>
<text transform="translate(183.40,441.20) rotate(-90)" x="-0.41" y="0" font-size="8.2" fill="#1a1a1a" textLength="25.95" lengthAdjust="spacingAndGlyphs">Control</text>
<text transform="translate(203.90,441.10) rotate(-90)" x="-0.43" y="0" font-size="8.6" fill="#1a1a1a" textLength="25.85" lengthAdjust="spacingAndGlyphs">CD11c</text>
<text transform="translate(213.50,447.30) rotate(-90)" x="-0.35" y="0" font-size="7.9" fill="#1a1a1a" textLength="32.30" lengthAdjust="spacingAndGlyphs">depleted</text>
<text transform="translate(228.90,467.30) rotate(-90)" x="-0.41" y="0" font-size="8.2" fill="#1a1a1a" textLength="51.11" lengthAdjust="spacingAndGlyphs">CD11c-DTR +</text>
<text transform="translate(240.00,462.20) rotate(-90)" x="-0.18" y="0" font-size="8.2" fill="#1a1a1a" textLength="19.76" lengthAdjust="spacingAndGlyphs">TLR9</text>
<text transform="translate(235.60,442.20) rotate(-90)" x="-0.22" y="0" font-size="4.8" style="stroke-width:0.12px" fill="#1a1a1a" textLength="4.64" lengthAdjust="spacingAndGlyphs">-/-</text>
<text transform="translate(240.00,436.60) rotate(-90)" x="-0.37" y="0" font-size="8.2" fill="#1a1a1a" textLength="21.28" lengthAdjust="spacingAndGlyphs">cDCs</text>
<line x1="291.50" y1="330.30" x2="291.50" y2="410.20" stroke="#1a1a1a" stroke-width="1.4"/>
<line x1="290.80" y1="409.60" x2="367.00" y2="409.60" stroke="#1a1a1a" stroke-width="1.5"/>
<line x1="288.60" y1="409.60" x2="291.50" y2="409.60" stroke="#1a1a1a" stroke-width="1.2"/>
<text x="273.94" y="412.50" font-size="8.6" fill="#1a1a1a" textLength="10.76" lengthAdjust="spacingAndGlyphs">2.0</text>
<line x1="288.60" y1="390.50" x2="291.50" y2="390.50" stroke="#1a1a1a" stroke-width="1.2"/>
<text x="273.97" y="393.40" font-size="8.6" fill="#1a1a1a" textLength="10.76" lengthAdjust="spacingAndGlyphs">2.5</text>
<line x1="288.60" y1="371.40" x2="291.50" y2="371.40" stroke="#1a1a1a" stroke-width="1.2"/>
<text x="273.94" y="374.30" font-size="8.6" fill="#1a1a1a" textLength="10.76" lengthAdjust="spacingAndGlyphs">3.0</text>
<line x1="288.60" y1="352.30" x2="291.50" y2="352.30" stroke="#1a1a1a" stroke-width="1.2"/>
<text x="273.97" y="355.20" font-size="8.6" fill="#1a1a1a" textLength="10.76" lengthAdjust="spacingAndGlyphs">3.5</text>
<line x1="288.60" y1="333.20" x2="291.50" y2="333.20" stroke="#1a1a1a" stroke-width="1.2"/>
<text x="273.94" y="336.10" font-size="8.6" fill="#1a1a1a" textLength="10.76" lengthAdjust="spacingAndGlyphs">4.0</text>
<rect x="294.40" y="348.80" width="17.90" height="60.80" fill="#a5002b"/>
<line x1="303.35" y1="348.80" x2="303.35" y2="335.40" stroke="#6a1028" stroke-width="1.2"/>
<line x1="299.35" y1="335.40" x2="307.35" y2="335.40" stroke="#6a1028" stroke-width="1.2"/>
<rect x="345.00" y="359.70" width="18.00" height="49.90" fill="#6aa842"/>
<line x1="354.00" y1="359.70" x2="354.00" y2="355.70" stroke="#3a5a2a" stroke-width="1.2"/>
<line x1="350.00" y1="355.70" x2="358.00" y2="355.70" stroke="#3a5a2a" stroke-width="1.2"/>
<line x1="303.50" y1="409.60" x2="303.50" y2="412.40" stroke="#1a1a1a" stroke-width="1.2"/>
<line x1="329.20" y1="409.60" x2="329.20" y2="412.40" stroke="#1a1a1a" stroke-width="1.2"/>
<line x1="354.00" y1="409.60" x2="354.00" y2="412.40" stroke="#1a1a1a" stroke-width="1.2"/>
<path d="M303.00,329.60V326.60H330.00V329.60" fill="none" stroke="#1a1a1a" stroke-width="1.1"/>
<text x="316.40" y="326.59" font-size="8.6" fill="#1a1a1a" text-anchor="middle">**</text>
<path d="M329.40,348.10V345.10H356.20V348.10" fill="none" stroke="#1a1a1a" stroke-width="1.1"/>
<text x="346.80" y="344.99" font-size="8.6" fill="#1a1a1a" text-anchor="middle">***</text>
<text transform="translate(268.10,395.70) rotate(-90)" x="-0.71" y="0" font-size="9.8" fill="#1a1a1a" textLength="53.71" lengthAdjust="spacingAndGlyphs">Division index</text>
<text transform="translate(306.40,441.20) rotate(-90)" x="-0.41" y="0" font-size="8.2" fill="#1a1a1a" textLength="25.95" lengthAdjust="spacingAndGlyphs">Control</text>
<text transform="translate(326.90,441.10) rotate(-90)" x="-0.42" y="0" font-size="8.6" fill="#1a1a1a" textLength="25.54" lengthAdjust="spacingAndGlyphs">CD11c</text>
<text transform="translate(337.10,447.30) rotate(-90)" x="-0.35" y="0" font-size="7.9" fill="#1a1a1a" textLength="31.99" lengthAdjust="spacingAndGlyphs">depleted</text>
<text transform="translate(352.10,466.80) rotate(-90)" x="-0.41" y="0" font-size="8.2" fill="#1a1a1a" textLength="50.60" lengthAdjust="spacingAndGlyphs">CD11c-DTR +</text>
<text transform="translate(362.20,462.60) rotate(-90)" x="-0.18" y="0" font-size="8.2" fill="#1a1a1a" textLength="19.76" lengthAdjust="spacingAndGlyphs">TLR9</text>
<text transform="translate(357.80,442.40) rotate(-90)" x="-0.22" y="0" font-size="4.8" style="stroke-width:0.12px" fill="#1a1a1a" textLength="4.64" lengthAdjust="spacingAndGlyphs">-/-</text>
<text transform="translate(362.20,436.80) rotate(-90)" x="-0.37" y="0" font-size="8.2" fill="#1a1a1a" textLength="21.28" lengthAdjust="spacingAndGlyphs">cDCs</text>
<text x="8.18" y="500.50" font-size="11" font-weight="bold" fill="#1a1a1a" textLength="9.91" lengthAdjust="spacingAndGlyphs">G</text>
<line x1="55.10" y1="508.00" x2="55.10" y2="592.00" stroke="#1a1a1a" stroke-width="1.5"/>
<line x1="54.40" y1="591.40" x2="171.20" y2="591.40" stroke="#1a1a1a" stroke-width="1.5"/>
<line x1="52.20" y1="591.40" x2="55.10" y2="591.40" stroke="#1a1a1a" stroke-width="1.2"/>
<text x="44.75" y="594.30" font-size="8.6" fill="#1a1a1a" textLength="4.30" lengthAdjust="spacingAndGlyphs">0</text>
<line x1="52.20" y1="571.20" x2="55.10" y2="571.20" stroke="#1a1a1a" stroke-width="1.2"/>
<text x="36.14" y="574.10" font-size="8.6" fill="#1a1a1a" textLength="12.91" lengthAdjust="spacingAndGlyphs">100</text>
<line x1="52.20" y1="551.00" x2="55.10" y2="551.00" stroke="#1a1a1a" stroke-width="1.2"/>
<text x="36.14" y="553.90" font-size="8.6" fill="#1a1a1a" textLength="12.91" lengthAdjust="spacingAndGlyphs">200</text>
<line x1="52.20" y1="530.80" x2="55.10" y2="530.80" stroke="#1a1a1a" stroke-width="1.2"/>
<text x="36.14" y="533.70" font-size="8.6" fill="#1a1a1a" textLength="12.91" lengthAdjust="spacingAndGlyphs">300</text>
<line x1="52.20" y1="510.60" x2="55.10" y2="510.60" stroke="#1a1a1a" stroke-width="1.2"/>
<text x="36.14" y="513.50" font-size="8.6" fill="#1a1a1a" textLength="12.91" lengthAdjust="spacingAndGlyphs">400</text>
<rect x="60.60" y="558.80" width="9.40" height="32.60" fill="#a5002b"/>
<line x1="65.30" y1="558.80" x2="65.30" y2="555.60" stroke="#6a1028" stroke-width="1.2"/>
<line x1="62.70" y1="555.60" x2="67.90" y2="555.60" stroke="#6a1028" stroke-width="1.2"/>
<line x1="65.30" y1="591.40" x2="65.30" y2="594.00" stroke="#1a1a1a" stroke-width="1.2"/>
<rect x="73.00" y="555.00" width="9.40" height="36.40" fill="#a5002b"/>
<line x1="77.70" y1="555.00" x2="77.70" y2="549.20" stroke="#6a1028" stroke-width="1.2"/>
<line x1="75.10" y1="549.20" x2="80.30" y2="549.20" stroke="#6a1028" stroke-width="1.2"/>
<line x1="77.70" y1="591.40" x2="77.70" y2="594.00" stroke="#1a1a1a" stroke-width="1.2"/>
<rect x="85.60" y="530.40" width="9.40" height="61.00" fill="#a5002b"/>
<line x1="90.30" y1="530.40" x2="90.30" y2="522.30" stroke="#6a1028" stroke-width="1.2"/>
<line x1="87.70" y1="522.30" x2="92.90" y2="522.30" stroke="#6a1028" stroke-width="1.2"/>
<line x1="90.30" y1="591.40" x2="90.30" y2="594.00" stroke="#1a1a1a" stroke-width="1.2"/>
<rect x="98.10" y="554.20" width="9.40" height="37.20" fill="#a5002b"/>
<line x1="102.80" y1="554.20" x2="102.80" y2="551.00" stroke="#6a1028" stroke-width="1.2"/>
<line x1="100.20" y1="551.00" x2="105.40" y2="551.00" stroke="#6a1028" stroke-width="1.2"/>
<line x1="102.80" y1="591.40" x2="102.80" y2="594.00" stroke="#1a1a1a" stroke-width="1.2"/>
<rect x="118.80" y="572.70" width="9.40" height="18.70" fill="#2f4a82"/>
<line x1="123.50" y1="572.70" x2="123.50" y2="571.00" stroke="#1f2f5a" stroke-width="1.2"/>
<line x1="120.90" y1="571.00" x2="126.10" y2="571.00" stroke="#1f2f5a" stroke-width="1.2"/>
<line x1="123.50" y1="591.40" x2="123.50" y2="594.00" stroke="#1a1a1a" stroke-width="1.2"/>
<rect x="131.30" y="565.40" width="9.40" height="26.00" fill="#2f4a82"/>
<line x1="136.00" y1="565.40" x2="136.00" y2="555.80" stroke="#1f2f5a" stroke-width="1.2"/>
<line x1="133.40" y1="555.80" x2="138.60" y2="555.80" stroke="#1f2f5a" stroke-width="1.2"/>
<line x1="136.00" y1="591.40" x2="136.00" y2="594.00" stroke="#1a1a1a" stroke-width="1.2"/>
<rect x="143.80" y="564.80" width="9.40" height="26.60" fill="#2f4a82"/>
<line x1="148.50" y1="564.80" x2="148.50" y2="559.60" stroke="#1f2f5a" stroke-width="1.2"/>
<line x1="145.90" y1="559.60" x2="151.10" y2="559.60" stroke="#1f2f5a" stroke-width="1.2"/>
<line x1="148.50" y1="591.40" x2="148.50" y2="594.00" stroke="#1a1a1a" stroke-width="1.2"/>
<rect x="156.30" y="575.40" width="9.40" height="16.00" fill="#2f4a82"/>
<line x1="161.00" y1="575.40" x2="161.00" y2="574.80" stroke="#1f2f5a" stroke-width="1.2"/>
<line x1="158.40" y1="574.80" x2="163.60" y2="574.80" stroke="#1f2f5a" stroke-width="1.2"/>
<line x1="161.00" y1="591.40" x2="161.00" y2="594.00" stroke="#1a1a1a" stroke-width="1.2"/>
<text x="90.20" y="518.29" font-size="8.6" fill="#1a1a1a" text-anchor="middle">**</text>
<rect x="138.00" y="518.30" width="7.80" height="4.50" fill="#a5002b"/>
<rect x="138.00" y="528.80" width="7.80" height="4.50" fill="#2f4a82"/>
<text x="148.35" y="523.00" font-size="8" fill="#1a1a1a" textLength="15.96" lengthAdjust="spacingAndGlyphs">cDC</text>
<text x="148.18" y="533.60" font-size="8" fill="#1a1a1a" textLength="16.13" lengthAdjust="spacingAndGlyphs">pDC</text>
<text transform="translate(30.00,583.30) rotate(-90)" x="-0.40" y="0" font-size="10.3" fill="#1a1a1a" textLength="68.65" lengthAdjust="spacingAndGlyphs">SIIN:H2-Kb (MFI)</text>
<text transform="translate(69.40,600.20) rotate(-45)" font-size="8" fill="#1a1a1a" text-anchor="end">PBS</text>
<text transform="translate(81.90,600.20) rotate(-45)" font-size="8" fill="#1a1a1a" text-anchor="end">Day 1</text>
<text transform="translate(94.40,600.20) rotate(-45)" font-size="8" fill="#1a1a1a" text-anchor="end">Day 2</text>
<text transform="translate(106.90,600.20) rotate(-45)" font-size="8" fill="#1a1a1a" text-anchor="end">Day 3</text>
<text transform="translate(127.60,600.20) rotate(-45)" font-size="8" fill="#1a1a1a" text-anchor="end">PBS</text>
<text transform="translate(140.10,600.20) rotate(-45)" font-size="8" fill="#1a1a1a" text-anchor="end">Day 1</text>
<text transform="translate(152.60,600.20) rotate(-45)" font-size="8" fill="#1a1a1a" text-anchor="end">Day 2</text>
<text transform="translate(165.10,600.20) rotate(-45)" font-size="8" fill="#1a1a1a" text-anchor="end">Day 3</text>
<path d="M63.80,617.2 Q63.80,621 66.80,621 L82.20,621 Q84.20,621 84.20,623 Q84.20,621 86.20,621 L101.60,621 Q104.60,621 104.60,617.2" fill="none" stroke="#1a1a1a" stroke-width="1.1"/>
<path d="M123.80,617.2 Q123.80,621 126.80,621 L141.80,621 Q143.80,621 143.80,623 Q143.80,621 145.80,621 L160.80,621 Q163.80,621 163.80,617.2" fill="none" stroke="#1a1a1a" stroke-width="1.1"/>
<text x="63.78" y="634.50" font-size="8.5" fill="#1a1a1a" textLength="41.52" lengthAdjust="spacingAndGlyphs">AAV2-SIIN</text>
<text x="123.18" y="634.50" font-size="8.5" fill="#1a1a1a" textLength="41.82" lengthAdjust="spacingAndGlyphs">AAV2-SIIN</text>
<text x="232.15" y="517.80" font-size="8" font-weight="bold" fill="#1a1a1a" textLength="17.89" lengthAdjust="spacingAndGlyphs">cDC</text>
<text x="316.13" y="517.80" font-size="8" font-weight="bold" fill="#1a1a1a" textLength="17.91" lengthAdjust="spacingAndGlyphs">pDC</text>
<path d="M205.20,584.00 C205.75,583.33 207.45,581.77 208.50,580.00 C209.55,578.23 210.42,577.97 211.50,573.40 C212.58,568.83 214.03,558.37 215.00,552.60 C215.97,546.83 216.63,542.83 217.30,538.80 C217.97,534.77 218.47,530.82 219.00,528.40 C219.53,525.98 219.92,523.15 220.50,524.30 C221.08,525.45 221.98,531.35 222.50,535.30 C223.02,539.25 223.02,543.97 223.60,548.00 C224.18,552.03 224.93,556.23 226.00,559.50 C227.07,562.77 228.18,564.90 230.00,567.60 C231.82,570.30 234.22,573.20 236.90,575.70 C239.58,578.20 243.98,581.22 246.10,582.60 C248.22,583.98 249.02,583.77 249.60,584.00 Z" fill="#d8958c" stroke="none"/>
<path d="M205.20,584.00 C205.75,583.33 207.45,581.77 208.50,580.00 C209.55,578.23 210.42,577.97 211.50,573.40 C212.58,568.83 214.03,558.37 215.00,552.60 C215.97,546.83 216.63,542.83 217.30,538.80 C217.97,534.77 218.47,530.82 219.00,528.40 C219.53,525.98 220.25,524.98 220.50,524.30" fill="none" stroke="#b02838" stroke-width="1.0"/>
<path d="M206.90,584.00 C207.33,583.25 208.63,581.47 209.50,579.50 C210.37,577.53 211.08,577.07 212.10,572.20 C213.12,567.33 214.53,557.22 215.60,550.30 C216.67,543.38 217.55,535.12 218.50,530.70 C219.45,526.28 220.55,523.80 221.30,523.80 C222.05,523.80 222.42,528.78 223.00,530.70 C223.58,532.62 224.02,532.80 224.80,535.30 C225.58,537.80 226.83,542.25 227.70,545.70 C228.57,549.15 229.23,553.78 230.00,556.00 C230.77,558.22 231.63,558.50 232.30,559.00 C232.97,559.50 233.23,558.43 234.00,559.00 C234.77,559.57 236.03,560.97 236.90,562.40 C237.77,563.83 238.05,565.58 239.20,567.60 C240.35,569.62 242.27,572.28 243.80,574.50 C245.33,576.72 247.05,579.32 248.40,580.90 C249.75,582.48 251.32,583.48 251.90,584.00" fill="none" stroke="#8b1a2e" stroke-width="1.25" stroke-linejoin="round"/>
<path d="M289.40,583.40 C290.03,582.10 292.10,578.88 293.20,575.60 C294.30,572.32 295.18,568.23 296.00,563.70 C296.82,559.17 297.38,553.67 298.10,548.40 C298.82,543.13 299.67,535.98 300.30,532.10 C300.93,528.22 301.45,526.50 301.90,525.10 C302.35,523.70 302.45,523.25 303.00,523.70 C303.55,524.15 304.47,525.13 305.20,527.80 C305.93,530.47 306.77,535.53 307.40,539.70 C308.03,543.87 308.47,548.27 309.00,552.80 C309.53,557.33 309.97,562.55 310.60,566.90 C311.23,571.25 311.98,576.15 312.80,578.90 C313.62,581.65 315.05,582.65 315.50,583.40 Z" fill="#8088c2" stroke="#2a3570" stroke-width="0.7"/>
<path d="M290.50,583.40 C291.08,582.00 292.92,578.73 294.00,575.00 C295.08,571.27 296.08,566.00 297.00,561.00 C297.92,556.00 298.75,550.17 299.50,545.00 C300.25,539.83 300.82,533.50 301.50,530.00 C302.18,526.50 302.80,524.28 303.60,524.00 C304.40,523.72 305.67,526.77 306.30,528.30 C306.93,529.83 306.87,529.48 307.40,533.20 C307.93,536.92 308.87,545.17 309.50,550.60 C310.13,556.03 310.47,561.08 311.20,565.80 C311.93,570.52 313.00,575.97 313.90,578.90 C314.80,581.83 316.15,582.65 316.60,583.40" fill="none" stroke="#2a3570" stroke-width="1.1"/>
<rect x="202.20" y="523.2" width="78.00" height="60.90" fill="none" stroke="#000" stroke-width="1.4"/>
<line x1="200.00" y1="525.50" x2="202.20" y2="525.50" stroke="#000" stroke-width="0.8"/>
<line x1="200.00" y1="529.55" x2="202.20" y2="529.55" stroke="#000" stroke-width="0.8"/>
<line x1="200.00" y1="533.60" x2="202.20" y2="533.60" stroke="#000" stroke-width="0.8"/>
<line x1="200.00" y1="537.65" x2="202.20" y2="537.65" stroke="#000" stroke-width="0.8"/>
<line x1="200.00" y1="541.70" x2="202.20" y2="541.70" stroke="#000" stroke-width="0.8"/>
<line x1="200.00" y1="545.75" x2="202.20" y2="545.75" stroke="#000" stroke-width="0.8"/>
<line x1="200.00" y1="549.80" x2="202.20" y2="549.80" stroke="#000" stroke-width="0.8"/>
<line x1="200.00" y1="553.85" x2="202.20" y2="553.85" stroke="#000" stroke-width="0.8"/>
<line x1="200.00" y1="557.90" x2="202.20" y2="557.90" stroke="#000" stroke-width="0.8"/>
<line x1="200.00" y1="561.95" x2="202.20" y2="561.95" stroke="#000" stroke-width="0.8"/>
<line x1="200.00" y1="566.00" x2="202.20" y2="566.00" stroke="#000" stroke-width="0.8"/>
<line x1="200.00" y1="570.05" x2="202.20" y2="570.05" stroke="#000" stroke-width="0.8"/>
<line x1="200.00" y1="574.10" x2="202.20" y2="574.10" stroke="#000" stroke-width="0.8"/>
<line x1="200.00" y1="578.15" x2="202.20" y2="578.15" stroke="#000" stroke-width="0.8"/>
<line x1="200.00" y1="582.20" x2="202.20" y2="582.20" stroke="#000" stroke-width="0.8"/>
<line x1="205.70" y1="584.10" x2="205.70" y2="586.60" stroke="#000" stroke-width="0.8"/>
<line x1="208.20" y1="584.10" x2="208.20" y2="586.60" stroke="#000" stroke-width="0.8"/>
<line x1="210.20" y1="584.10" x2="210.20" y2="586.60" stroke="#000" stroke-width="0.8"/>
<line x1="211.70" y1="584.10" x2="211.70" y2="586.60" stroke="#000" stroke-width="0.8"/>
<line x1="212.70" y1="584.10" x2="212.70" y2="586.60" stroke="#000" stroke-width="0.8"/>
<line x1="214.20" y1="584.10" x2="214.20" y2="586.60" stroke="#000" stroke-width="0.8"/>
<line x1="215.20" y1="584.10" x2="215.20" y2="586.60" stroke="#000" stroke-width="0.8"/>
<line x1="216.20" y1="584.10" x2="216.20" y2="586.60" stroke="#000" stroke-width="0.8"/>
<line x1="222.20" y1="584.10" x2="222.20" y2="586.60" stroke="#000" stroke-width="0.8"/>
<line x1="224.20" y1="584.10" x2="224.20" y2="586.60" stroke="#000" stroke-width="0.8"/>
<line x1="225.70" y1="584.10" x2="225.70" y2="586.60" stroke="#000" stroke-width="0.8"/>
<line x1="227.20" y1="584.10" x2="227.20" y2="586.60" stroke="#000" stroke-width="0.8"/>
<line x1="228.20" y1="584.10" x2="228.20" y2="586.60" stroke="#000" stroke-width="0.8"/>
<line x1="229.20" y1="584.10" x2="229.20" y2="586.60" stroke="#000" stroke-width="0.8"/>
<line x1="239.20" y1="584.10" x2="239.20" y2="586.60" stroke="#000" stroke-width="0.8"/>
<line x1="241.20" y1="584.10" x2="241.20" y2="586.60" stroke="#000" stroke-width="0.8"/>
<line x1="242.70" y1="584.10" x2="242.70" y2="586.60" stroke="#000" stroke-width="0.8"/>
<line x1="244.20" y1="584.10" x2="244.20" y2="586.60" stroke="#000" stroke-width="0.8"/>
<line x1="245.20" y1="584.10" x2="245.20" y2="586.60" stroke="#000" stroke-width="0.8"/>
<line x1="256.20" y1="584.10" x2="256.20" y2="586.60" stroke="#000" stroke-width="0.8"/>
<line x1="258.20" y1="584.10" x2="258.20" y2="586.60" stroke="#000" stroke-width="0.8"/>
<line x1="259.70" y1="584.10" x2="259.70" y2="586.60" stroke="#000" stroke-width="0.8"/>
<line x1="261.20" y1="584.10" x2="261.20" y2="586.60" stroke="#000" stroke-width="0.8"/>
<line x1="262.20" y1="584.10" x2="262.20" y2="586.60" stroke="#000" stroke-width="0.8"/>
<line x1="273.20" y1="584.10" x2="273.20" y2="586.60" stroke="#000" stroke-width="0.8"/>
<line x1="275.20" y1="584.10" x2="275.20" y2="586.60" stroke="#000" stroke-width="0.8"/>
<rect x="286.50" y="523.2" width="77.40" height="60.90" fill="none" stroke="#000" stroke-width="1.4"/>
<line x1="284.30" y1="525.50" x2="286.50" y2="525.50" stroke="#000" stroke-width="0.8"/>
<line x1="284.30" y1="529.55" x2="286.50" y2="529.55" stroke="#000" stroke-width="0.8"/>
<line x1="284.30" y1="533.60" x2="286.50" y2="533.60" stroke="#000" stroke-width="0.8"/>
<line x1="284.30" y1="537.65" x2="286.50" y2="537.65" stroke="#000" stroke-width="0.8"/>
<line x1="284.30" y1="541.70" x2="286.50" y2="541.70" stroke="#000" stroke-width="0.8"/>
<line x1="284.30" y1="545.75" x2="286.50" y2="545.75" stroke="#000" stroke-width="0.8"/>
<line x1="284.30" y1="549.80" x2="286.50" y2="549.80" stroke="#000" stroke-width="0.8"/>
<line x1="284.30" y1="553.85" x2="286.50" y2="553.85" stroke="#000" stroke-width="0.8"/>
<line x1="284.30" y1="557.90" x2="286.50" y2="557.90" stroke="#000" stroke-width="0.8"/>
<line x1="284.30" y1="561.95" x2="286.50" y2="561.95" stroke="#000" stroke-width="0.8"/>
<line x1="284.30" y1="566.00" x2="286.50" y2="566.00" stroke="#000" stroke-width="0.8"/>
<line x1="284.30" y1="570.05" x2="286.50" y2="570.05" stroke="#000" stroke-width="0.8"/>
<line x1="284.30" y1="574.10" x2="286.50" y2="574.10" stroke="#000" stroke-width="0.8"/>
<line x1="284.30" y1="578.15" x2="286.50" y2="578.15" stroke="#000" stroke-width="0.8"/>
<line x1="284.30" y1="582.20" x2="286.50" y2="582.20" stroke="#000" stroke-width="0.8"/>
<line x1="290.00" y1="584.10" x2="290.00" y2="586.60" stroke="#000" stroke-width="0.8"/>
<line x1="292.50" y1="584.10" x2="292.50" y2="586.60" stroke="#000" stroke-width="0.8"/>
<line x1="294.50" y1="584.10" x2="294.50" y2="586.60" stroke="#000" stroke-width="0.8"/>
<line x1="296.00" y1="584.10" x2="296.00" y2="586.60" stroke="#000" stroke-width="0.8"/>
<line x1="297.00" y1="584.10" x2="297.00" y2="586.60" stroke="#000" stroke-width="0.8"/>
<line x1="298.50" y1="584.10" x2="298.50" y2="586.60" stroke="#000" stroke-width="0.8"/>
<line x1="299.50" y1="584.10" x2="299.50" y2="586.60" stroke="#000" stroke-width="0.8"/>
<line x1="300.50" y1="584.10" x2="300.50" y2="586.60" stroke="#000" stroke-width="0.8"/>
<line x1="306.50" y1="584.10" x2="306.50" y2="586.60" stroke="#000" stroke-width="0.8"/>
<line x1="308.50" y1="584.10" x2="308.50" y2="586.60" stroke="#000" stroke-width="0.8"/>
<line x1="310.00" y1="584.10" x2="310.00" y2="586.60" stroke="#000" stroke-width="0.8"/>
<line x1="311.50" y1="584.10" x2="311.50" y2="586.60" stroke="#000" stroke-width="0.8"/>
<line x1="312.50" y1="584.10" x2="312.50" y2="586.60" stroke="#000" stroke-width="0.8"/>
<line x1="313.50" y1="584.10" x2="313.50" y2="586.60" stroke="#000" stroke-width="0.8"/>
<line x1="323.50" y1="584.10" x2="323.50" y2="586.60" stroke="#000" stroke-width="0.8"/>
<line x1="325.50" y1="584.10" x2="325.50" y2="586.60" stroke="#000" stroke-width="0.8"/>
<line x1="327.00" y1="584.10" x2="327.00" y2="586.60" stroke="#000" stroke-width="0.8"/>
<line x1="328.50" y1="584.10" x2="328.50" y2="586.60" stroke="#000" stroke-width="0.8"/>
<line x1="329.50" y1="584.10" x2="329.50" y2="586.60" stroke="#000" stroke-width="0.8"/>
<line x1="340.50" y1="584.10" x2="340.50" y2="586.60" stroke="#000" stroke-width="0.8"/>
<line x1="342.50" y1="584.10" x2="342.50" y2="586.60" stroke="#000" stroke-width="0.8"/>
<line x1="344.00" y1="584.10" x2="344.00" y2="586.60" stroke="#000" stroke-width="0.8"/>
<line x1="345.50" y1="584.10" x2="345.50" y2="586.60" stroke="#000" stroke-width="0.8"/>
<line x1="346.50" y1="584.10" x2="346.50" y2="586.60" stroke="#000" stroke-width="0.8"/>
<line x1="357.50" y1="584.10" x2="357.50" y2="586.60" stroke="#000" stroke-width="0.8"/>
<line x1="359.50" y1="584.10" x2="359.50" y2="586.60" stroke="#000" stroke-width="0.8"/>
<text x="201.64" y="596.60" font-size="6.2" style="stroke-width:0.12px" fill="#1a1a1a" textLength="8.51" lengthAdjust="spacingAndGlyphs">-10</text>
<text x="210.22" y="593.70" font-size="4.0" style="stroke-width:0.12px" fill="#1a1a1a" textLength="2.22" lengthAdjust="spacingAndGlyphs">2</text>
<text x="214.45" y="596.60" font-size="6.2" style="stroke-width:0.12px" fill="#1a1a1a" textLength="6.55" lengthAdjust="spacingAndGlyphs">10</text>
<text x="221.07" y="593.70" font-size="4.0" style="stroke-width:0.12px" fill="#1a1a1a" textLength="2.22" lengthAdjust="spacingAndGlyphs">2</text>
<text x="231.75" y="596.60" font-size="6.2" style="stroke-width:0.12px" fill="#1a1a1a" textLength="6.55" lengthAdjust="spacingAndGlyphs">10</text>
<text x="238.42" y="593.70" font-size="4.0" style="stroke-width:0.12px" fill="#1a1a1a" textLength="2.22" lengthAdjust="spacingAndGlyphs">3</text>
<text x="250.85" y="596.60" font-size="6.2" style="stroke-width:0.12px" fill="#1a1a1a" textLength="6.55" lengthAdjust="spacingAndGlyphs">10</text>
<text x="257.58" y="593.70" font-size="4.0" style="stroke-width:0.12px" fill="#1a1a1a" textLength="2.22" lengthAdjust="spacingAndGlyphs">4</text>
<text x="268.15" y="596.60" font-size="6.2" style="stroke-width:0.12px" fill="#1a1a1a" textLength="6.55" lengthAdjust="spacingAndGlyphs">10</text>
<text x="274.81" y="593.70" font-size="4.0" style="stroke-width:0.12px" fill="#1a1a1a" textLength="2.22" lengthAdjust="spacingAndGlyphs">5</text>
<text x="285.94" y="596.60" font-size="6.2" style="stroke-width:0.12px" fill="#1a1a1a" textLength="8.51" lengthAdjust="spacingAndGlyphs">-10</text>
<text x="294.52" y="593.70" font-size="4.0" style="stroke-width:0.12px" fill="#1a1a1a" textLength="2.22" lengthAdjust="spacingAndGlyphs">2</text>
<text x="298.75" y="596.60" font-size="6.2" style="stroke-width:0.12px" fill="#1a1a1a" textLength="6.55" lengthAdjust="spacingAndGlyphs">10</text>
<text x="305.37" y="593.70" font-size="4.0" style="stroke-width:0.12px" fill="#1a1a1a" textLength="2.22" lengthAdjust="spacingAndGlyphs">2</text>
<text x="316.05" y="596.60" font-size="6.2" style="stroke-width:0.12px" fill="#1a1a1a" textLength="6.55" lengthAdjust="spacingAndGlyphs">10</text>
<text x="322.72" y="593.70" font-size="4.0" style="stroke-width:0.12px" fill="#1a1a1a" textLength="2.22" lengthAdjust="spacingAndGlyphs">3</text>
<text x="335.15" y="596.60" font-size="6.2" style="stroke-width:0.12px" fill="#1a1a1a" textLength="6.55" lengthAdjust="spacingAndGlyphs">10</text>
<text x="341.88" y="593.70" font-size="4.0" style="stroke-width:0.12px" fill="#1a1a1a" textLength="2.22" lengthAdjust="spacingAndGlyphs">4</text>
<text x="352.45" y="596.60" font-size="6.2" style="stroke-width:0.12px" fill="#1a1a1a" textLength="6.55" lengthAdjust="spacingAndGlyphs">10</text>
<text x="359.11" y="593.70" font-size="4.0" style="stroke-width:0.12px" fill="#1a1a1a" textLength="2.22" lengthAdjust="spacingAndGlyphs">5</text>
<text transform="translate(195.20,552.10) rotate(-90)" x="-0.43" y="0" font-size="8.6" fill="#1a1a1a" textLength="22.59" lengthAdjust="spacingAndGlyphs">Count</text>
<path d="M191.6,563 L191.6,604 L226.5,604" fill="none" stroke="#000" stroke-width="1.3"/>
<path d="M189,563.4 L194.2,563.4 L191.6,558.3 Z" fill="#000"/>
<path d="M226,601.4 L226,606.6 L231,604 Z" fill="#000"/>
<text x="237.80" y="608.20" font-size="8.5" fill="#1a1a1a" textLength="44.57" lengthAdjust="spacingAndGlyphs">SIIN:H2-Kb</text>
<rect x="372.6" y="528.8" width="6.4" height="5.8" fill="#7a7a7a" stroke="#222" stroke-width="0.9"/>
<rect x="372.6" y="538.3" width="6.4" height="5.9" fill="#fff" stroke="#222" stroke-width="0.9"/>
<text x="381.13" y="533.80" font-size="7.5" fill="#1a1a1a" textLength="16.24" lengthAdjust="spacingAndGlyphs">PBS</text>
<text x="381.78" y="544.20" font-size="7.5" fill="#1a1a1a" textLength="37.65" lengthAdjust="spacingAndGlyphs">AAV2-SIIN</text>
<rect x="0.75" y="0.75" width="518.5" height="642.5" fill="none" stroke="#000" stroke-width="1.5"/>
</svg></body></html>
